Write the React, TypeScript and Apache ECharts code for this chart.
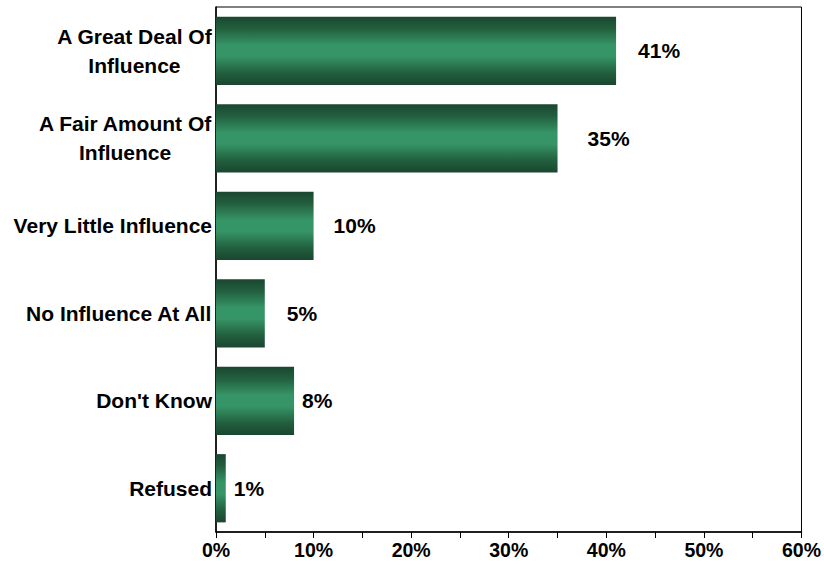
import React, { useEffect, useRef } from "react";
import * as echarts from "echarts";

const categories = [
  "A Great Deal Of\nInfluence",
  "A Fair Amount Of\nInfluence",
  "Very Little Influence",
  "No Influence At All",
  "Don't Know",
  "Refused",
];
const values = [41, 35, 10, 5, 8, 1];
const labelGaps = [22, 30, 20, 22, 8, 8];
const xTicks = { min: 0, max: 60, interval: 10 };

const FONT = "'Liberation Sans', Arial, Helvetica, sans-serif";

export default function App() {
  const ref = useRef<HTMLDivElement>(null);
  useEffect(() => {
    if (!ref.current) return;
    const chart = echarts.init(ref.current, undefined, { renderer: "svg" });
    const grad = new echarts.graphic.LinearGradient(0, 0, 0, 1, [
      { offset: 0, color: "#1a4630" },
      { offset: 0.18, color: "#22603f" },
      { offset: 0.42, color: "#369566" },
      { offset: 0.58, color: "#369566" },
      { offset: 0.82, color: "#22603f" },
      { offset: 1, color: "#1a4630" },
    ]);
    chart.setOption({
      animation: false,
      backgroundColor: "#ffffff",
      grid: {
        left: 216,
        right: 21,
        top: 7,
        bottom: 33,
        show: true,
        borderColor: "#000",
        borderWidth: 1,
        backgroundColor: "transparent",
      },
      xAxis: {
        type: "value",
        min: xTicks.min,
        max: xTicks.max,
        interval: xTicks.interval,
        axisLine: { show: true, lineStyle: { color: "#000", width: 1.5 } },
        axisTick: { show: true, length: 6, lineStyle: { color: "#000", width: 1 } },
        minorTick: { show: true, splitNumber: 2, length: 6, lineStyle: { color: "#000", width: 1 } },
        splitLine: { show: false },
        axisLabel: {
          formatter: "{value}%",
          color: "#000",
          fontFamily: FONT,
          fontWeight: "bold",
          fontSize: 19.5,
          margin: 8,
        },
      },
      yAxis: {
        type: "category",
        inverse: true,
        data: categories,
        axisLine: { show: true, lineStyle: { color: "#000", width: 1.5 } },
        axisTick: { show: false },
        axisLabel: {
          margin: 4,
          formatter: (v: string) =>
            v
              .split("\n")
              .map((s) => "{c|" + s + "}")
              .join("\n"),
          rich: {
            c: {
              align: "center",
              color: "#000",
              fontFamily: FONT,
              fontWeight: "bold",
              fontSize: 21,
              lineHeight: 29,
            },
          },
        },
      },
      series: [
        {
          type: "bar",
          barCategoryGap: "22%",
          data: values.map((v, i) => ({
            value: v,
            label: { distance: labelGaps[i] },
          })),
          itemStyle: { color: grad },
          label: {
            show: true,
            position: "right",
            formatter: "{c}%",
            color: "#000",
            fontFamily: FONT,
            fontWeight: "bold",
            fontSize: 21,
          },
        },
      ],
    });
    return () => chart.dispose();
  }, []);
  return (
    <div
      ref={ref}
      style={{ position: "fixed", left: 0, top: 0, width: 824, height: 565 }}
    />
  );
}
